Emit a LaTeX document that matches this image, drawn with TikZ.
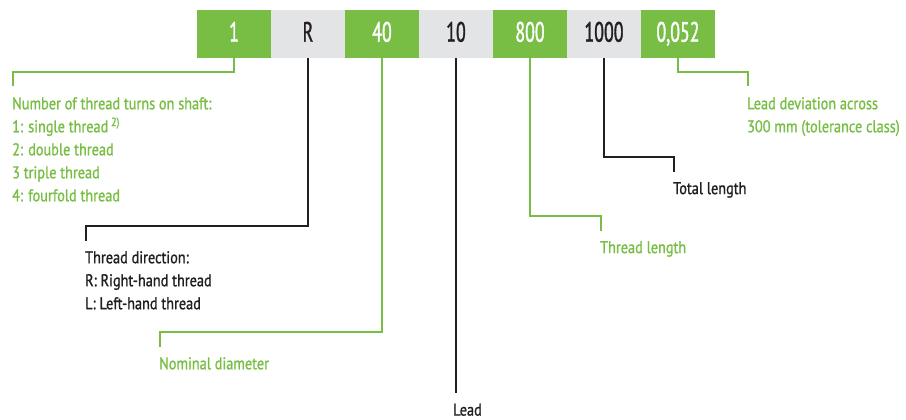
\documentclass[tikz,border=0pt]{standalone}
\usepackage{fontspec}
\usepackage{tikz}
\usetikzlibrary{positioning,calc}
\usepackage{xcolor}
\newfontfamily\capfont{PT Sans}[FakeStretch=0.84, FakeBold=1.2]
\newfontfamily\boxfont{PT Sans}[FakeStretch=0.64, FakeBold=1.2]
\definecolor{leaf}{RGB}{120,190,69}
\definecolor{panel}{RGB}{227,228,230}
\definecolor{ink}{RGB}{35,31,32}

\begin{document}
\begin{tikzpicture}[x=1pt, y=-1pt,
  gbox/.style={fill=leaf, text=white, minimum width=73.6pt, minimum height=48pt, inner sep=0pt,
               text height=19.4pt, text depth=4.4pt, font=\boxfont\fontsize{28}{28}\selectfont},
  sbox/.style={gbox, fill=panel, text=ink},
  gcap/.style={font=\capfont\fontsize{17}{23}\selectfont, text=leaf, align=left,
               inner xsep=0pt, inner ysep=10.5pt, anchor=north west},
  kcap/.style={gcap, text=ink},
  gline/.style={draw=leaf, line width=1.2pt},
  kline/.style={draw=ink, line width=1.2pt},
]
\useasboundingbox (0,0) rectangle (906,420);

% Code boxes
\node[gbox, anchor=north west] (turns) at (197,10) {1};
\node[sbox, right=0pt of turns] (dirn) {R};
\node[gbox, right=0pt of dirn] (diam) {40};
\node[sbox, right=0pt of diam] (lead) {10};
\node[gbox, right=0pt of lead] (thrl) {800};
\node[sbox, right=0pt of thrl] (totl) {1000};
\node[gbox, right=0pt of totl] (dev) {0,052};

% Thread turns
\coordinate (turnsK) at (13,72);
\node[gcap] (turnsLbl) at ([xshift=-1pt, yshift=-14.5pt]turnsK)
  {Number of thread turns on shaft:\\1: single thread\,\textsuperscript{2)}\\2: double thread\\3 triple thread\\4: fourfold thread};
\draw[gline] (turns.south) |- (turnsK) -- (turnsK |- turnsLbl.north);

% Direction
\coordinate (dirnK) at (86,226);
\node[kcap] (dirnLbl) at ([xshift=-1pt, yshift=-14.5pt]dirnK)
  {Thread direction:\\R: Right-hand thread\\L: Left-hand thread};
\draw[kline] (dirn.south) |- (dirnK) -- (dirnK |- dirnLbl.north);

% Diameter
\coordinate (diamK) at (160,332);
\node[gcap] (diamLbl) at ([xshift=-1pt, yshift=-14.5pt]diamK) {Nominal diameter};
\draw[gline] (diam.south) |- (diamK) -- (diamK |- diamLbl.north);

% Lead
\node[kcap] (leadLbl) at (453,393) {Lead};
\draw[kline] (lead.south) -- (lead.south |- leadLbl.north);

% Thread length
\coordinate (thrlK) at (601,216);
\node[gcap] (thrlLbl) at ([xshift=-1pt, yshift=-14.5pt]thrlK) {Thread length};
\draw[gline] (thrl.south) |- (thrlK) -- (thrlK |- thrlLbl.north);

% Total length
\coordinate (totlK) at (674,157);
\node[kcap] (totlLbl) at ([xshift=-1pt, yshift=-14.5pt]totlK) {Total length};
\draw[kline] (totl.south) |- (totlK) -- (totlK |- totlLbl.north);

% Deviation
\coordinate (devK) at (748,72);
\node[gcap] (devLbl) at ([xshift=-1pt, yshift=-14.5pt]devK) {Lead deviation across\\300 mm (tolerance class)};
\draw[gline] (dev.south) |- (devK) -- (devK |- devLbl.north);
\end{tikzpicture}
\end{document}
